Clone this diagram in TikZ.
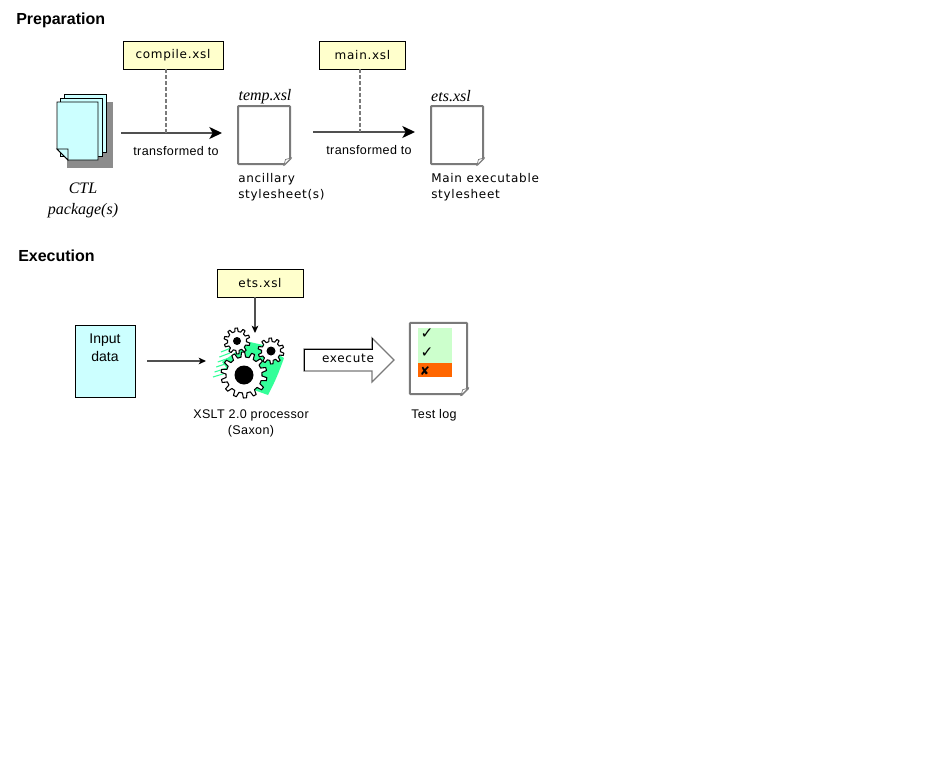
\documentclass[tikz,border=0pt]{standalone}
\usepackage{fontspec}
\setmainfont{Liberation Sans}
\newfontfamily\verdanafont[LetterSpace=6]{DejaVu Sans}
\newfontfamily\arialfont[LetterSpace=3]{Liberation Sans}
\newfontfamily\serifitfont{Liberation Serif}
\usepackage{tikz}
\usetikzlibrary{arrows.meta}
\tikzset{>={Stealth[black,length=9.5pt,width=9pt,inset=2.5pt]}}
\definecolor{boxyellow}{HTML}{FFFFCC}
\definecolor{pagecyan}{HTML}{CCFFFF}
\definecolor{gearmint}{HTML}{33FF99}
\definecolor{loggreen}{HTML}{CCFFCC}
\definecolor{logorange}{HTML}{FF6600}
\definecolor{edgegrey}{HTML}{7A7A7A}
\definecolor{flowgrey}{HTML}{505050}
\tikzset{
    heading/.style={inner sep=0pt,anchor=west,font=\bfseries\fontsize{12}{14}\selectfont},
    filebox/.style={draw=black,fill=boxyellow,line width=0.7pt,inner sep=0pt,minimum height=21pt,
        font=\verdanafont\fontsize{9}{10}\selectfont},
    sheet/.style={draw=edgegrey,fill=white,line width=1.5pt,inner sep=0pt,rounded corners=0.6pt},
    stackpage/.style={draw=black,fill=pagecyan,line width=0.7pt},
    caption/.style={inner sep=0pt,font=\arialfont\fontsize{9.4}{12}\selectfont,align=center},
    vcaption/.style={inner sep=0pt,anchor=north west,align=left,
        font=\verdanafont\fontsize{9}{12}\selectfont},
    filename/.style={inner sep=0pt,font=\serifitfont\itshape\fontsize{12}{15.75}\selectfont,align=center},
    flow/.style={draw=flowgrey,line width=1pt,->},
    thinflow/.style={draw=flowgrey,line width=0.9pt,
        -{Stealth[black,length=5.5pt,width=5pt,inset=1.5pt]}}
}
% gear: centre x, centre y, outer radius, root radius, teeth, hub radius
\newcommand{\gearshape}[6]{%
    \pgfmathsetmacro{\gstep}{360/#5}
    \pgfmathsetmacro{\glast}{#5-1}
    \draw[shift={(#1,#2)},fill=white,line width=0.8pt,line join=round] (0:#4)
        \foreach \t in {0,...,\glast} {
            -- (\t*\gstep+0.12*\gstep:#4) -- (\t*\gstep+0.26*\gstep:#3)
            -- (\t*\gstep+0.56*\gstep:#3) -- (\t*\gstep+0.70*\gstep:#4)
            -- (\t*\gstep+\gstep:#4)
        } -- cycle;
    \fill[shift={(#1,#2)}] (0,0) circle (#6);
}

\begin{document}
\begin{tikzpicture}[x=0.75pt,y=-0.75pt]
        \useasboundingbox[fill=white] (0,0) rectangle (940,771);

        \node[heading] (prep) at (16,20.8) {Preparation};
        \node[heading] (exec) at (18,255.6) {Execution};

        % preparation row
        \fill[black!45] (67,102) -- (113,102) -- (113,168) -- (67,168) -- cycle;
        \draw[stackpage] (64,94) -- (106,94) -- (106,152) -- (64,152) -- cycle;
        \draw[stackpage] (60,98) -- (102,98) -- (102,156) -- (60,156) -- cycle;
        \draw[stackpage] (57,102) -- (98,102) -- (98,160) -- (68,160) -- (57,149) -- cycle;
        \draw[fill=pagecyan,line width=0.7pt] (57,149) -- (68,149) -- (68,160) -- cycle;
        \coordinate (s1) at (121,133);
        \coordinate (e1) at (222,133);
        \coordinate (t1) at (166,133);
        \coordinate (s2) at (313,132);
        \coordinate (e2) at (415,132);
        \coordinate (t2) at (360,132);

        \node[filebox,minimum width=75pt] (compile) at (173,55) {compile.xsl};
        \node[filebox,minimum width=65pt] (mainx) at (362.5,55) {main.xsl};
        \node[sheet,minimum width=39pt,minimum height=43.5pt] (temp) at (264,135) {};
        \node[sheet,minimum width=39pt,minimum height=43.5pt] (ets) at (457,135) {};

        \draw[flow] (s1) -- (e1);
        \draw[flow] (s2) -- (e2);
        \draw[edgegrey,line width=0.9pt,dash pattern=on 3pt off 1.5pt] (t1 |- compile.south) -- (t1);
        \draw[edgegrey,line width=0.9pt,dash pattern=on 3pt off 1.5pt] (t2 |- mainx.south) -- (t2);

        \node[caption] (lab1) at (176,151) {transformed to};
        \node[caption] (lab2) at (369,150) {transformed to};
        \node[filename] (ctl) at (83,200.5) {CTL\\package(s)};
        \node[filename] (tempname) at (265,96.5) {temp.xsl};
        \node[filename] (etsname) at (451,96) {ets.xsl};
        \node[vcaption] (anc) at (238,173.5) {ancillary\\stylesheet(s)};
        \node[vcaption] (mainlab) at (431,173.5) {Main executable\\stylesheet};

        % execution row
        \node[draw=black,fill=pagecyan,line width=0.7pt,minimum width=45pt,minimum height=54pt,
            inner sep=0pt] (input) at (105.5,361) {};
        \node[inner sep=0pt,font=\fontsize{10.5}{13.5}\selectfont,align=center,anchor=north]
            (inputlab) at (105,334) {Input\\data};
        \node[filebox,minimum width=64.5pt] (etsbox) at (260,283) {ets.xsl};
        \coordinate (s3) at (147,361);
        \coordinate (e3) at (206,361);
        \coordinate (e4) at (255,333);
        \draw[thinflow] (s3) -- (e3);
        \draw[thinflow] (e4 |- etsbox.south) -- (e4);

        \fill[gearmint] (250,342) -- (263,345) -- (284,358)
            .. controls (279,372) and (275,382) .. (268,395) -- (240,385) -- (222,362) -- cycle;
        \foreach \v in {0,...,5}
            \draw[gearmint,line width=0.8pt] (213+\v*1.6,377-\v*5) -- (226+\v*1,373-\v*5);
        \gearshape{244}{375}{23}{18}{14}{9.5}
        \gearshape{237}{341}{13}{9.5}{10}{4}
        \gearshape{271}{351}{13}{9.5}{10}{4.5}

        \draw[edgegrey,fill=white,line width=0.9pt] (304,349) -- (372,349) -- (372,338) -- (394,360)
            -- (372,382) -- (372,371) -- (304,371) -- cycle;
        \draw[black,line width=0.45pt] (304,371) -- (304,349) -- (372,349) -- (372,338);
        \node[inner sep=0pt,font=\verdanafont\fontsize{9}{10}\selectfont] (execlab) at (348,358.5) {execute};

        \node[sheet,minimum width=43pt,minimum height=53.5pt] (log) at (438.5,358.5) {};
        \fill[loggreen] (418,328) rectangle (452,363);
        \fill[logorange] (418,363) rectangle (452,377);
        \node[inner sep=0pt,font=\verdanafont\fontsize{11.5}{12}\selectfont] (ok1) at (427,334) {✓};
        \node[inner sep=0pt,font=\verdanafont\fontsize{11.5}{12}\selectfont] (ok2) at (427,353) {✓};
        \node[inner sep=0pt,font=\verdanafont\fontsize{9}{10}\selectfont] (fail) at (425,371) {✘};

        \node[caption] (xslt) at (251,423) {XSLT 2.0 processor\\(Saxon)};
        \node[caption] (loglab) at (434,415) {Test log};

        \foreach \v in {temp,ets,log} {
            \fill[white] ([shift={(-8,1.5)}]\v.south east) -- ([shift={(1.5,-8)}]\v.south east)
                -- ([shift={(1.5,1.5)}]\v.south east) -- cycle;
            \draw[edgegrey,line width=1.5pt,line cap=round] ([shift={(-7,0)}]\v.south east)
                -- ([shift={(0,-7)}]\v.south east);
            \draw[edgegrey,fill=white,line width=0.5pt] ([shift={(-7,0)}]\v.south east)
                -- ([shift={(-5.5,-5.5)}]\v.south east) -- ([shift={(0,-7)}]\v.south east) -- cycle;
        }
    \end{tikzpicture}
\end{document}
